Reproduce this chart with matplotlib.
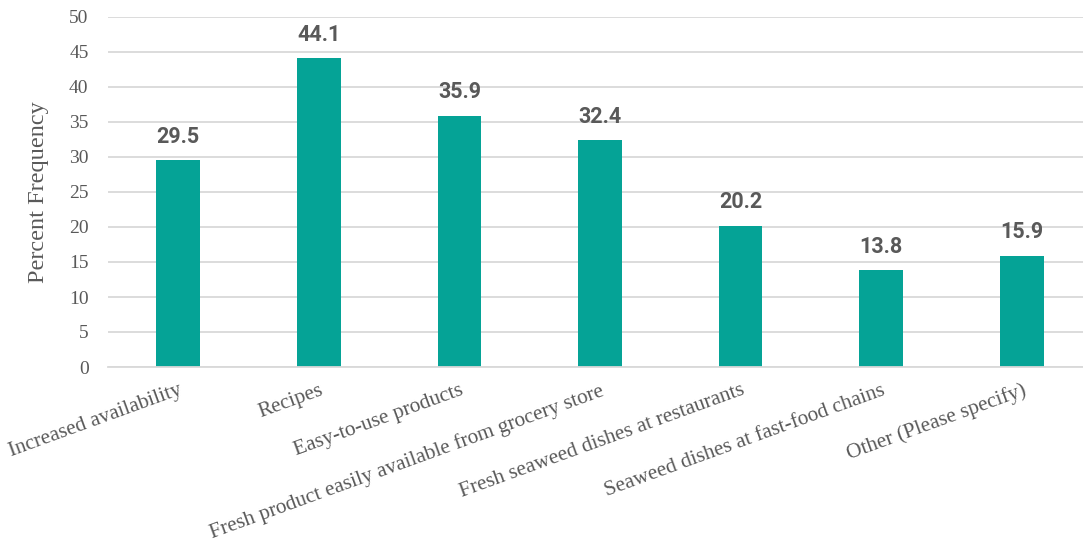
import matplotlib.pyplot as plt

categories = ['Increased availability', 'Recipes', 'Easy-to-use products',
              'Fresh product easily available from grocery store',
              'Fresh seaweed dishes at restaurants',
              'Seaweed dishes at fast-food chains', 'Other (Please specify)']
values = [29.5, 44.1, 35.9, 32.4, 20.2, 13.8, 15.9]
yticks = [0, 5, 10, 15, 20, 25, 30, 35, 40, 45, 50]

bar_color = '#05A396'
text_color = '#595959'
grid_color = '#D9D9D9'

fig = plt.figure(figsize=(10.83, 5.46), dpi=100)
ax = fig.add_axes([108 / 1083, 179 / 546, 1 - 108 / 1083, 350 / 546])

x = range(len(categories))
ax.bar(x, values, width=0.31, color=bar_color, zorder=3)

for xi, v in zip(x, values):
    ax.annotate(f'{v:.1f}', (xi, v), xytext=(0, 9), textcoords='offset points',
                ha='center', va='bottom', fontsize=15.5, fontweight='bold',
                family='Roboto', color=text_color)

ax.set_xlim(-0.5, 6.5 - 9 / 140.5)
ax.set_ylim(0, 50)
ax.set_yticks(yticks)
ax.set_xticks(list(x))
ax.set_xticklabels(categories, rotation=20, ha='right', rotation_mode='anchor',
                   family='Liberation Serif', fontsize=15.3, color=text_color)
for lab in ax.get_yticklabels():
    lab.set_family('Liberation Serif')
ax.tick_params(axis='y', length=0, pad=14, labelsize=14, labelcolor=text_color)
ax.tick_params(axis='x', length=0, pad=10)

ax.yaxis.grid(True, color=grid_color, linewidth=1.3, zorder=0)
for s in ['top', 'right', 'left']:
    ax.spines[s].set_visible(False)
ax.spines['bottom'].set_color(grid_color)
ax.spines['bottom'].set_linewidth(1.3)
ax.spines['bottom'].set_zorder(4)

ax.set_ylabel('Percent Frequency', family='Liberation Serif', fontsize=17.5,
              color=text_color, labelpad=14)

fig.savefig('out.png', dpi=100)
